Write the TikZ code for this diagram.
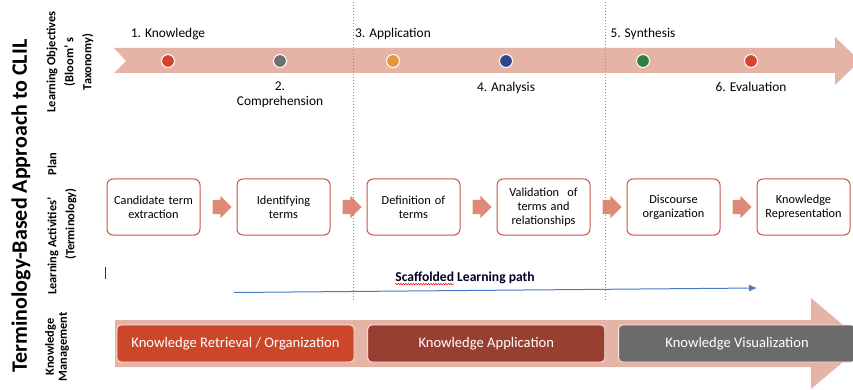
\documentclass[tikz,border=0pt]{standalone}
\usepackage{fontspec}
\setmainfont{Carlito}
\usetikzlibrary{positioning}
\usetikzlibrary{calc}
\usetikzlibrary{shapes.arrows}
\usetikzlibrary{arrows.meta}
\usetikzlibrary{decorations.pathmorphing}
\definecolor{bandpink}{RGB}{230,180,166}
\definecolor{boxred}{RGB}{197,88,68}
\definecolor{arrowred}{RGB}{221,138,118}
\definecolor{dotred}{RGB}{210,70,43}
\definecolor{dotgrey}{RGB}{112,112,112}
\definecolor{dotorange}{RGB}{226,150,62}
\definecolor{dotnavy}{RGB}{46,72,140}
\definecolor{dotgreen}{RGB}{47,125,63}
\definecolor{kmred}{RGB}{204,71,41}
\definecolor{kmbrown}{RGB}{153,63,49}
\definecolor{kmgrey}{RGB}{107,107,107}
\definecolor{phaseblue}{RGB}{95,150,230}
\definecolor{pathblue}{RGB}{74,122,198}
\tikzstyle{band} = [fill=bandpink, draw=none]
\tikzstyle{main title} = [rotate=90, inner sep=0pt, font=\bfseries\fontsize{22}{26}\selectfont]
\tikzstyle{row label} = [rotate=90, inner sep=0pt, align=center, font=\bfseries\fontsize{12.4}{18}\selectfont]
\tikzstyle{level dot} = [circle, draw=white, line width=1pt, minimum size=13pt, inner sep=0pt]
\tikzstyle{level} = [inner sep=0pt, align=center, font=\fontsize{13.4}{15}\selectfont]
\tikzstyle{activity} = [rectangle, rounded corners=6pt, draw=boxred, line width=1pt, fill=white, minimum width=93pt, minimum height=56pt, text width=86pt, align=center, font=\fontsize{12.3}{14}\selectfont]
\tikzstyle{flow arrow} = [single arrow, fill=arrowred, draw=none, inner xsep=0pt, inner ysep=7pt, single arrow head extend=4pt, minimum height=19pt]
\tikzstyle{phase line} = [dash pattern=on 1.2pt off 1.8pt, draw=phaseblue, line width=1pt]
\tikzstyle{path arrow} = [-{Latex[length=8pt,width=7pt]}, draw=pathblue, line width=1pt]
\tikzstyle{path label} = [inner sep=0pt, font=\bfseries\fontsize{13.6}{16}\selectfont, text=black!85!blue]
\tikzstyle{spell mark} = [draw=red, line width=0.5pt, decorate, decoration={snake, amplitude=0.8pt, segment length=2.5pt}]
\tikzstyle{km box} = [rectangle, rounded corners=4pt, draw=white!75!bandpink, line width=0.8pt, minimum width=237pt, minimum height=37pt, text=white, font=\fontsize{14.6}{17}\selectfont]

\begin{document}
\begin{tikzpicture}[x=1pt, y=-1pt, node distance=36pt]
  \useasboundingbox (0,0) rectangle (853,390);
  % headings on the left
  \node[main title] (title) at (21,206) {Terminology-Based Approach to CLIL};
  \node[row label] (objlabel) at (70,62) {Learning Objectives\\(Bloom’ s\\Taxonomy)};
  \node[row label] (actlabel) at (62,224) {Learning Activities’\hspace{22pt}Plan\\(Terminology)};
  \node[row label, font=\bfseries\fontsize{12.4}{13}\selectfont] (kmlabel) at (57,347) {Knowledge\\Management};
  % Bloom levels
  \fill[band] (114,48) -- (835,48) -- (835,37) -- (860,61) -- (835,85) -- (835,73) -- (114,73) -- (126,61) -- cycle;
  \node[level dot, fill=dotred] (d1) at (168,61) {};
  \node[level dot, fill=dotgrey] (d2) at (280,61) {};
  \node[level dot, fill=dotorange] (d3) at (393,61) {};
  \node[level dot, fill=dotnavy] (d4) at (506,61) {};
  \node[level dot, fill=dotgreen] (d5) at (643,61) {};
  \node[level dot, fill=dotred] (d6) at (751,61) {};
  \node[level] (l1) [above=14pt of d1] {1. Knowledge};
  \node[level] (l2) [below=14pt of d2] {2.\\Comprehension};
  \node[level] (l3) [above=14pt of d3] {3. Application};
  \node[level] (l4) [below=14pt of d4] {4. Analysis};
  \node[level] (l5) [above=14pt of d5] {5. Synthesis};
  \node[level] (l6) [below=14pt of d6] {6. Evaluation};
  % activities
  \node[activity] (a1) at (153.5,207) {Candidate term\\extraction};
  \node[activity] (a2) [right=of a1] {Identifying\\terms};
  \node[activity] (a3) [right=of a2] {Definition of\\terms};
  \node[activity] (a4) [right=of a3] {Validation\ \ of\\terms and\\relationships};
  \node[activity] (a5) [right=of a4] {Discourse\\organization};
  \node[activity] (a6) [right=of a5] {Knowledge\\Representation};
  \node[flow arrow] (f1) at ($(a1.east)!0.5!(a2.west)$) {};
  \node[flow arrow] (f2) at ($(a2.east)!0.5!(a3.west)$) {};
  \node[flow arrow] (f3) at ($(a3.east)!0.5!(a4.west)$) {};
  \node[flow arrow] (f4) at ($(a4.east)!0.5!(a5.west)$) {};
  \node[flow arrow] (f5) at ($(a5.east)!0.5!(a6.west)$) {};
  % learning path
  \draw[gray!40!black, line width=0.8pt] (105,267) -- (105,279);
  \node[path label] (plabel) at (465,278) {Scaffolded Learning path};
  \draw[spell mark] ($(plabel.base west)+(0,2.5)$) -- ++(59,0);
  \coordinate (pstart) at (234,292.5);
  \coordinate (pend) at (757,288);
  \draw[path arrow] (pstart) -- (pend);
  % knowledge management
  \fill[band] (115,320) -- (811,320) -- (811,298) -- (865,343.5) -- (811,389) -- (811,367) -- (115,367) -- cycle;
  \node[km box, fill=kmred] (k1) at (235.5,343.5) {Knowledge Retrieval / Organization};
  \node[km box, fill=kmbrown] (k2) [right=13pt of k1] {Knowledge Application};
  \node[km box, fill=kmgrey] (k3) [right=13pt of k2] {Knowledge Visualization};
  % phase separators
  \draw[phase line] (353,2) -- (353,300);
  \draw[phase line] (605,2) -- (605,300);
\end{tikzpicture}
\end{document}
